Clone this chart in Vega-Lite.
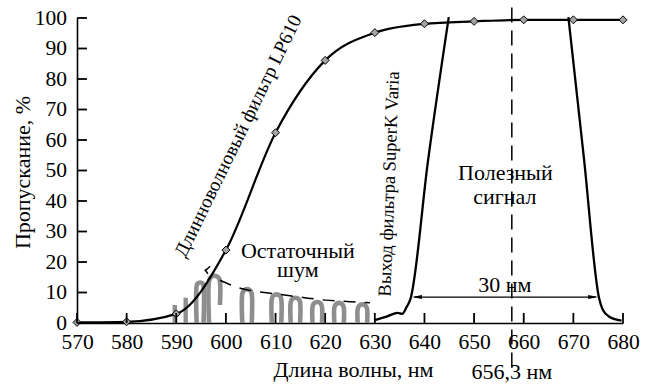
{
  "$schema": "https://vega.github.io/schema/vega-lite/v6.json",
  "width": 546,
  "height": 305,
  "autosize": {"type": "none"},
  "padding": {"left": 77, "top": 18, "right": 29, "bottom": 62},
  "background": "white",
  "config": {
    "view": {"stroke": null},
    "font": "Liberation Serif",
    "axis": {
      "labelFont": "Liberation Serif",
      "titleFont": "Liberation Serif",
      "labelColor": "black",
      "titleColor": "black",
      "domainColor": "black",
      "domainWidth": 1.6,
      "ticks": false,
      "grid": false,
      "labelFontSize": 21.5,
      "titleFontSize": 22,
      "titleFontWeight": "normal",
      "labelOverlap": false,
      "labelFlush": false
    }
  },
  "datasets": {
    "lp": [
      {"x": 570, "y": 0.2}, {"x": 580, "y": 0.4}, {"x": 590, "y": 3.0}, {"x": 600, "y": 23.9},
      {"x": 610, "y": 62.4}, {"x": 620, "y": 86.1}, {"x": 630, "y": 95.2}, {"x": 640, "y": 98.1},
      {"x": 650, "y": 98.9}, {"x": 660, "y": 99.4}, {"x": 670, "y": 99.4}, {"x": 680, "y": 99.4}
    ],
    "superk": [
      {"s": "L", "x": 629.9, "y": 0.9}, {"s": "L", "x": 632.5, "y": 2.2}, {"s": "L", "x": 634.6, "y": 3.3},
      {"s": "L", "x": 635.5, "y": 3.0}, {"s": "L", "x": 636.4, "y": 5.2}, {"s": "L", "x": 637.2, "y": 8.0},
      {"s": "L", "x": 640.7, "y": 53}, {"s": "L", "x": 644.9, "y": 100.3},
      {"s": "R", "x": 669.0, "y": 100.3}, {"s": "R", "x": 672.1, "y": 54.5}, {"s": "R", "x": 675.2, "y": 8.0},
      {"s": "R", "x": 675.9, "y": 4.4}, {"s": "R", "x": 677.3, "y": 2.0}, {"s": "R", "x": 679.7, "y": 0.8}
    ],
    "arches": [
      {"id": 1, "o": 1, "x": 594.1, "y": 0}, {"id": 1, "o": 2, "x": 594.1, "y": 12.16}, {"id": 1, "o": 3, "x": 594.305, "y": 12.97}, {"id": 1, "o": 4, "x": 594.8, "y": 13.3}, {"id": 1, "o": 5, "x": 595.295, "y": 12.97}, {"id": 1, "o": 6, "x": 595.5, "y": 12.16}, {"id": 1, "o": 7, "x": 595.5, "y": 0},
      {"id": 2, "o": 1, "x": 596.6, "y": 0}, {"id": 2, "o": 2, "x": 596.6, "y": 13.71}, {"id": 2, "o": 3, "x": 596.92, "y": 14.98}, {"id": 2, "o": 4, "x": 597.7, "y": 15.5}, {"id": 2, "o": 5, "x": 598.48, "y": 14.98}, {"id": 2, "o": 6, "x": 598.8, "y": 13.71}, {"id": 2, "o": 7, "x": 598.8, "y": 5.9},
      {"id": 3, "o": 1, "x": 603.3, "y": 0}, {"id": 3, "o": 2, "x": 603.3, "y": 9.55}, {"id": 3, "o": 3, "x": 603.58, "y": 10.64}, {"id": 3, "o": 4, "x": 604.25, "y": 11.1}, {"id": 3, "o": 5, "x": 604.92, "y": 10.64}, {"id": 3, "o": 6, "x": 605.2, "y": 9.55}, {"id": 3, "o": 7, "x": 605.2, "y": 0},
      {"id": 4, "o": 1, "x": 609.25, "y": 0}, {"id": 4, "o": 2, "x": 609.25, "y": 7.85}, {"id": 4, "o": 3, "x": 609.53, "y": 8.94}, {"id": 4, "o": 4, "x": 610.2, "y": 9.4}, {"id": 4, "o": 5, "x": 610.87, "y": 8.94}, {"id": 4, "o": 6, "x": 611.15, "y": 7.85}, {"id": 4, "o": 7, "x": 611.15, "y": 0},
      {"id": 5, "o": 1, "x": 613.05, "y": 0}, {"id": 5, "o": 2, "x": 613.05, "y": 6.75}, {"id": 5, "o": 3, "x": 613.33, "y": 7.84}, {"id": 5, "o": 4, "x": 614.0, "y": 8.3}, {"id": 5, "o": 5, "x": 614.67, "y": 7.84}, {"id": 5, "o": 6, "x": 614.95, "y": 6.75}, {"id": 5, "o": 7, "x": 614.95, "y": 0},
      {"id": 6, "o": 1, "x": 617.45, "y": 0}, {"id": 6, "o": 2, "x": 617.45, "y": 5.35}, {"id": 6, "o": 3, "x": 617.73, "y": 6.44}, {"id": 6, "o": 4, "x": 618.4, "y": 6.9}, {"id": 6, "o": 5, "x": 619.07, "y": 6.44}, {"id": 6, "o": 6, "x": 619.35, "y": 5.35}, {"id": 6, "o": 7, "x": 619.35, "y": 0},
      {"id": 7, "o": 1, "x": 621.85, "y": 0}, {"id": 7, "o": 2, "x": 621.85, "y": 5.05}, {"id": 7, "o": 3, "x": 622.13, "y": 6.14}, {"id": 7, "o": 4, "x": 622.8, "y": 6.6}, {"id": 7, "o": 5, "x": 623.47, "y": 6.14}, {"id": 7, "o": 6, "x": 623.75, "y": 5.05}, {"id": 7, "o": 7, "x": 623.75, "y": 0},
      {"id": 8, "o": 1, "x": 626.55, "y": 0}, {"id": 8, "o": 2, "x": 626.55, "y": 4.55}, {"id": 8, "o": 3, "x": 626.83, "y": 5.64}, {"id": 8, "o": 4, "x": 627.5, "y": 6.1}, {"id": 8, "o": 5, "x": 628.17, "y": 5.64}, {"id": 8, "o": 6, "x": 628.45, "y": 4.55}, {"id": 8, "o": 7, "x": 628.45, "y": 0}
    ],
    "bars": [
      {"x": 589.7, "y": 5.9},
      {"x": 591.9, "y": 8.3}
    ],
    "envelope": [
      {"s": 1, "o": 1, "x": 596.8, "y": 18.6}, {"s": 1, "o": 2, "x": 595.7, "y": 17.3}, {"s": 1, "o": 3, "x": 596.5, "y": 15.7},
      {"s": 2, "o": 1, "x": 598.8, "y": 14.0}, {"s": 2, "o": 2, "x": 601.1, "y": 12.4}, {"s": 2, "o": 3, "x": 603.1, "y": 11.3},
      {"s": 2, "o": 4, "x": 605.5, "y": 10.5}, {"s": 2, "o": 5, "x": 610.8, "y": 9.4}, {"s": 2, "o": 6, "x": 615.8, "y": 8.3},
      {"s": 2, "o": 7, "x": 620.0, "y": 7.5}, {"s": 2, "o": 8, "x": 625.0, "y": 7.0}, {"s": 2, "o": 9, "x": 629.0, "y": 6.6}
    ],
    "tkx": [
      {"x": 570, "y": 1.65}, {"x": 580, "y": 1.65}, {"x": 590, "y": 1.65}, {"x": 600, "y": 1.65},
      {"x": 610, "y": 1.65}, {"x": 620, "y": 1.65}, {"x": 630, "y": 1.65}, {"x": 640, "y": 1.65},
      {"x": 650, "y": 1.65}, {"x": 660, "y": 1.65}, {"x": 670, "y": 1.65}, {"x": 680, "y": 1.65}
    ],
    "tky": [
      {"y": 0, "x": 571}, {"y": 10, "x": 571}, {"y": 20, "x": 571}, {"y": 30, "x": 571},
      {"y": 40, "x": 571}, {"y": 50, "x": 571}, {"y": 60, "x": 571}, {"y": 70, "x": 571},
      {"y": 80, "x": 571}, {"y": 90, "x": 571}, {"y": 100, "x": 571}
    ]
  },
  "encoding": {
    "x": {"field": "x", "type": "quantitative", "scale": {"domain": [570, 680], "nice": false, "zero": false},
      "axis": {"values": [570, 580, 590, 600, 610, 620, 630, 640, 650, 660, 670, 680], "labelOverlap": false, "labelPadding": 25.3, "labelBaseline": "alphabetic",
        "title": "Длина волны, нм", "titleX": 276, "titleY": 53, "titleBaseline": "alphabetic", "titleAlign": "center"}},
    "y": {"field": "y", "type": "quantitative", "scale": {"domain": [0, 100], "nice": false, "zero": false},
      "axis": {"values": [0, 10, 20, 30, 40, 50, 60, 70, 80, 90, 100], "labelOverlap": false, "labelPadding": 10.5,
        "title": "Пропускание, %", "titleX": -55, "titleY": 154, "titleAngle": -90, "titleBaseline": "middle", "titleAlign": "center"}}
  },
  "layer": [
    {
      "data": {"name": "arches"},
      "mark": {"type": "line", "interpolate": "catmull-rom", "color": "#8e8e8e", "strokeWidth": 4.6, "strokeCap": "butt"},
      "encoding": {
        "detail": {"field": "id", "type": "nominal"},
        "order": {"field": "o", "type": "quantitative"}
      }
    },
    {
      "data": {"name": "bars"},
      "mark": {"type": "rule", "color": "#8e8e8e", "strokeWidth": 4.4},
      "encoding": {
        "y2": {"datum": 0}
      }
    },
    {
      "data": {"name": "envelope"},
      "mark": {"type": "line", "interpolate": "monotone", "color": "black", "strokeWidth": 1.5, "strokeDash": [12, 9]},
      "encoding": {
        "detail": {"field": "s", "type": "nominal"},
        "order": {"field": "o", "type": "quantitative"}
      }
    },
    {
      "data": {"name": "lp"},
      "mark": {"type": "line", "interpolate": "monotone", "color": "black", "strokeWidth": 2.2}
    },
    {
      "data": {"name": "superk"},
      "mark": {"type": "line", "interpolate": "monotone", "color": "black", "strokeWidth": 2.3},
      "encoding": {
        "detail": {"field": "s", "type": "nominal"}
      }
    },
    {
      "data": {"name": "lp"},
      "mark": {"type": "point", "shape": "diamond", "filled": true, "fill": "#a3a3a3", "stroke": "black", "strokeWidth": 1, "size": 64, "opacity": 1}
    },
    {
      "data": {"values": [{"x": 657.6, "y": -14.6, "y2": 104.3}]},
      "mark": {"type": "rule", "color": "black", "strokeWidth": 1.5, "strokeDash": [15, 8]},
      "encoding": {
        "y2": {"field": "y2"}
      }
    },
    {
      "data": {"values": [{"x": 638.0, "x2": 674.5, "y": 8.5}]},
      "mark": {"type": "rule", "color": "black", "strokeWidth": 1.3},
      "encoding": {
        "x2": {"field": "x2"}
      }
    },
    {
      "data": {"values": [{"x": 638.5, "y": 8.5}]},
      "mark": {"type": "point", "shape": "M-1,0L1,-0.4L1,0.4Z", "filled": true, "color": "black", "size": 100, "opacity": 1}
    },
    {
      "data": {"values": [{"x": 674.0, "y": 8.5}]},
      "mark": {"type": "point", "shape": "M1,0L-1,-0.4L-1,0.4Z", "filled": true, "color": "black", "size": 100, "opacity": 1}
    },
    {
      "data": {"name": "tkx"},
      "mark": {"type": "tick", "orient": "vertical", "size": 10, "thickness": 1.8, "color": "black", "opacity": 1}
    },
    {
      "data": {"name": "tky"},
      "mark": {"type": "tick", "orient": "horizontal", "size": 10, "thickness": 1.8, "color": "black", "opacity": 1}
    },
    {
      "data": {"values": [
        {"t": "Остаточный", "x": 614.5, "y": 21.2},
        {"t": "шум", "x": 614.5, "y": 15.1},
        {"t": "Полезный", "x": 656.3, "y": 46.9},
        {"t": "сигнал", "x": 656.2, "y": 39.0},
        {"t": "30 нм", "x": 656.2, "y": 10.2},
        {"t": "656,3 нм", "x": 657.6, "y": -18.3}
      ]},
      "mark": {"type": "text", "font": "Liberation Serif", "fontSize": 22, "align": "center", "baseline": "alphabetic", "color": "black"},
      "encoding": {
        "text": {"field": "t", "type": "nominal"}
      }
    },
    {
      "data": {"values": [{"t": "Длинноволновый фильтр LP610", "x": 602.5, "y": 61.3}]},
      "mark": {"type": "text", "font": "Liberation Serif", "fontSize": 19.5, "align": "center", "baseline": "middle", "angle": -64, "color": "black"},
      "encoding": {
        "text": {"field": "t", "type": "nominal"}
      }
    },
    {
      "data": {"values": [{"t": "Выход фильтра SuperK Varia", "x": 632.8, "y": 45.6}]},
      "mark": {"type": "text", "font": "Liberation Serif", "fontSize": 18.5, "align": "center", "baseline": "middle", "angle": -87.8, "color": "black"},
      "encoding": {
        "text": {"field": "t", "type": "nominal"}
      }
    }
  ]
}
